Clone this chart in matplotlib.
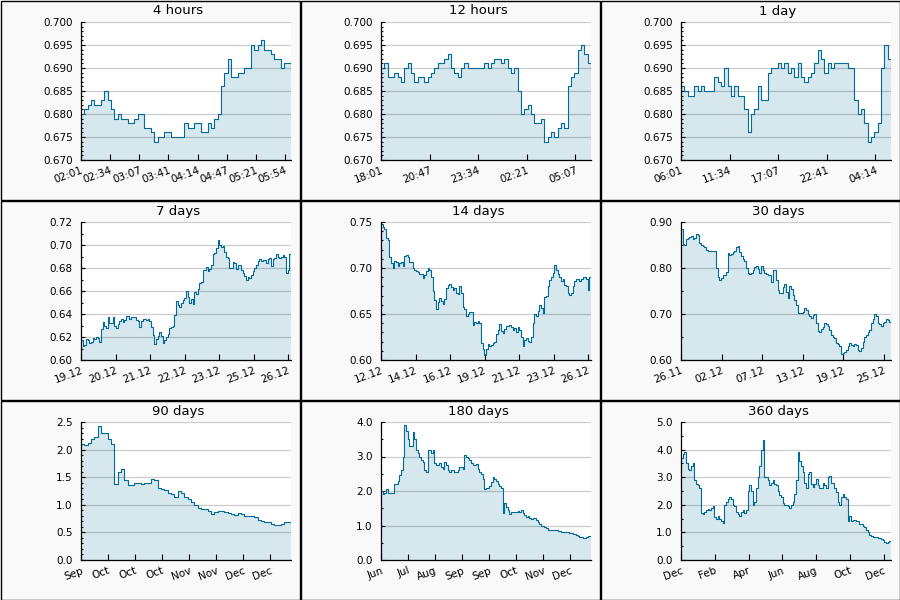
import numpy as np
import matplotlib
matplotlib.use("Agg")
import matplotlib.pyplot as plt
from matplotlib.patches import Rectangle
from matplotlib.ticker import MultipleLocator, FormatStrFormatter

# ---- data ----
titles = ["4 hours", "12 hours", "1 day",
          "7 days", "14 days", "30 days",
          "90 days", "180 days", "360 days"]

four_hours = [0.680, 0.681, 0.682, 0.683, 0.682, 0.682, 0.683, 0.685, 0.683, 0.681,
              0.679, 0.680, 0.679, 0.679, 0.678, 0.678, 0.679, 0.680, 0.680, 0.677,
              0.677, 0.676, 0.674, 0.675, 0.675, 0.676, 0.676, 0.675, 0.675, 0.675,
              0.675, 0.678, 0.677, 0.677, 0.678, 0.678, 0.676, 0.676, 0.678, 0.677,
              0.679, 0.680, 0.686, 0.689, 0.692, 0.688, 0.688, 0.689, 0.689, 0.690,
              0.690, 0.695, 0.694, 0.695, 0.696, 0.694, 0.694, 0.693, 0.692, 0.692,
              0.690, 0.691, 0.691, 0.690]

twelve_hours = [0.690, 0.691, 0.688, 0.688, 0.689, 0.688, 0.687, 0.690, 0.691, 0.689,
                0.687, 0.688, 0.688, 0.687, 0.688, 0.689, 0.690, 0.691, 0.691, 0.692,
                0.693, 0.690, 0.689, 0.688, 0.690, 0.691, 0.690, 0.690, 0.690, 0.690,
                0.690, 0.691, 0.690, 0.691, 0.692, 0.692, 0.691, 0.692, 0.690, 0.689,
                0.690, 0.685, 0.680, 0.681, 0.682, 0.680, 0.678, 0.678, 0.679, 0.674,
                0.675, 0.676, 0.675, 0.677, 0.678, 0.677, 0.686, 0.688, 0.689, 0.694,
                0.695, 0.693, 0.691, 0.690]

one_day = [0.686, 0.685, 0.684, 0.684, 0.686, 0.685, 0.686, 0.685, 0.685, 0.685,
           0.688, 0.687, 0.686, 0.690, 0.686, 0.684, 0.686, 0.684, 0.684, 0.681,
           0.676, 0.680, 0.681, 0.686, 0.683, 0.683, 0.689, 0.690, 0.690, 0.691,
           0.690, 0.691, 0.689, 0.690, 0.688, 0.691, 0.688, 0.687, 0.688, 0.689,
           0.691, 0.694, 0.692, 0.689, 0.691, 0.690, 0.691, 0.691, 0.691, 0.691,
           0.690, 0.690, 0.683, 0.680, 0.681, 0.678, 0.674, 0.675, 0.676, 0.678,
           0.690, 0.695, 0.692, 0.690]

seven_days = [0.617, 0.612, 0.613, 0.618, 0.617, 0.615, 0.616, 0.619, 0.618, 0.620,
              0.619, 0.616, 0.627, 0.633, 0.630, 0.628, 0.637, 0.632, 0.632, 0.637,
              0.630, 0.628, 0.631, 0.634, 0.636, 0.633, 0.635, 0.638, 0.638, 0.636,
              0.637, 0.637, 0.637, 0.635, 0.634, 0.629, 0.634, 0.636, 0.636, 0.635,
              0.636, 0.634, 0.629, 0.622, 0.614, 0.618, 0.621, 0.624, 0.621, 0.615,
              0.617, 0.620, 0.623, 0.628, 0.629, 0.630, 0.639, 0.651, 0.648, 0.646,
              0.650, 0.652, 0.654, 0.660, 0.655, 0.650, 0.653, 0.649, 0.659, 0.657,
              0.662, 0.667, 0.668, 0.678, 0.678, 0.681, 0.677, 0.679, 0.683, 0.692,
              0.693, 0.697, 0.704, 0.700, 0.698, 0.699, 0.694, 0.690, 0.689, 0.680,
              0.680, 0.685, 0.684, 0.679, 0.683, 0.683, 0.678, 0.676, 0.673, 0.670,
              0.672, 0.671, 0.674, 0.677, 0.680, 0.683, 0.686, 0.688, 0.686, 0.687,
              0.687, 0.684, 0.688, 0.689, 0.682, 0.688, 0.689, 0.692, 0.690, 0.689,
              0.690, 0.691, 0.690, 0.676, 0.678, 0.692, 0.692]

fourteen_days = [0.748, 0.745, 0.742, 0.733, 0.730, 0.712, 0.705, 0.700, 0.708, 0.706,
                 0.702, 0.705, 0.706, 0.702, 0.713, 0.714, 0.712, 0.707, 0.707, 0.700,
                 0.698, 0.697, 0.696, 0.693, 0.694, 0.689, 0.692, 0.697, 0.700, 0.698,
                 0.690, 0.675, 0.665, 0.655, 0.663, 0.667, 0.664, 0.661, 0.666, 0.678,
                 0.682, 0.683, 0.679, 0.676, 0.678, 0.673, 0.672, 0.680, 0.673, 0.658,
                 0.655, 0.648, 0.650, 0.652, 0.652, 0.638, 0.641, 0.640, 0.642, 0.640,
                 0.618, 0.612, 0.605, 0.612, 0.617, 0.615, 0.616, 0.618, 0.620, 0.628,
                 0.633, 0.639, 0.632, 0.629, 0.634, 0.637, 0.637, 0.638, 0.636, 0.633,
                 0.635, 0.630, 0.636, 0.633, 0.625, 0.615, 0.622, 0.624, 0.621, 0.620,
                 0.625, 0.640, 0.650, 0.648, 0.653, 0.660, 0.657, 0.651, 0.669, 0.670,
                 0.680, 0.687, 0.690, 0.695, 0.703, 0.698, 0.693, 0.690, 0.686, 0.688,
                 0.682, 0.680, 0.673, 0.671, 0.673, 0.680, 0.686, 0.688, 0.688, 0.686,
                 0.688, 0.690, 0.690, 0.688, 0.676, 0.690, 0.693]

thirty_days = [0.885, 0.852, 0.850, 0.862, 0.865, 0.868, 0.870, 0.862, 0.865, 0.875,
               0.872, 0.855, 0.850, 0.848, 0.845, 0.840, 0.838, 0.836, 0.837, 0.838,
               0.838, 0.800, 0.780, 0.775, 0.778, 0.785, 0.785, 0.792, 0.832, 0.828,
               0.830, 0.835, 0.838, 0.845, 0.848, 0.835, 0.827, 0.820, 0.815, 0.800,
               0.790, 0.788, 0.790, 0.795, 0.803, 0.805, 0.797, 0.790, 0.805, 0.795,
               0.790, 0.787, 0.785, 0.785, 0.770, 0.795, 0.795, 0.775, 0.752, 0.745,
               0.745, 0.758, 0.765, 0.748, 0.735, 0.760, 0.755, 0.742, 0.730, 0.720,
               0.703, 0.702, 0.703, 0.705, 0.712, 0.708, 0.700, 0.695, 0.692, 0.697,
               0.699, 0.680, 0.662, 0.660, 0.668, 0.672, 0.680, 0.678, 0.675, 0.665,
               0.655, 0.650, 0.648, 0.637, 0.635, 0.630, 0.612, 0.615, 0.618, 0.622,
               0.630, 0.636, 0.633, 0.630, 0.635, 0.632, 0.622, 0.620, 0.627, 0.640,
               0.650, 0.655, 0.660, 0.665, 0.680, 0.690, 0.700, 0.695, 0.680, 0.678,
               0.673, 0.680, 0.683, 0.690, 0.686, 0.682, 0.688]

ninety_days = [2.10, 2.08, 2.12, 2.20, 2.22, 2.42, 2.30, 2.30, 2.20, 2.10,
               1.38, 1.60, 1.65, 1.45, 1.35, 1.35, 1.40, 1.40, 1.38, 1.39,
               1.40, 1.46, 1.45, 1.30, 1.28, 1.27, 1.22, 1.20, 1.15, 1.25,
               1.22, 1.15, 1.10, 1.05, 1.00, 0.95, 0.93, 0.92, 0.88, 0.83,
               0.87, 0.88, 0.88, 0.87, 0.86, 0.84, 0.82, 0.85, 0.83, 0.80,
               0.80, 0.79, 0.77, 0.72, 0.71, 0.68, 0.68, 0.66, 0.63, 0.64,
               0.66, 0.69, 0.69, 0.68]

one_eighty_days = [2.00, 1.90, 1.95, 2.05, 1.93, 1.95, 1.95, 1.95, 2.20, 2.20,
                   2.30, 2.45, 2.60, 3.00, 3.90, 3.75, 3.50, 3.30, 3.30, 3.70,
                   3.50, 3.20, 3.10, 3.00, 2.90, 2.85, 2.60, 2.55, 3.20, 3.20,
                   3.10, 3.20, 2.80, 2.75, 2.75, 2.80, 2.70, 2.65, 2.85, 2.75,
                   2.60, 2.55, 2.60, 2.62, 2.55, 2.55, 2.60, 2.70, 2.70, 2.65,
                   3.05, 3.00, 2.95, 2.90, 2.80, 2.75, 2.75, 2.78, 2.65, 2.55,
                   2.50, 2.35, 2.05, 2.10, 2.10, 2.15, 2.25, 2.40, 2.35, 2.30,
                   2.20, 2.15, 2.10, 1.35, 1.65, 1.55, 1.45, 1.32, 1.38, 1.40,
                   1.40, 1.40, 1.42, 1.40, 1.45, 1.35, 1.30, 1.25, 1.28, 1.22,
                   1.20, 1.22, 1.22, 1.15, 1.10, 1.05, 1.00, 0.98, 0.95, 0.92,
                   0.88, 0.87, 0.87, 0.87, 0.87, 0.86, 0.85, 0.83, 0.82, 0.80,
                   0.82, 0.81, 0.80, 0.78, 0.78, 0.76, 0.74, 0.72, 0.70, 0.68,
                   0.66, 0.63, 0.65, 0.67, 0.70, 0.70, 0.70]

three_sixty_days = [3.70, 3.85, 3.90, 3.50, 3.30, 3.25, 3.40, 3.50, 2.90, 2.75,
                    2.70, 2.60, 1.70, 1.65, 1.75, 1.80, 1.85, 1.80, 1.90, 1.95,
                    1.55, 1.50, 1.60, 1.50, 1.40, 1.35, 2.00, 2.10, 2.20, 2.30,
                    2.20, 2.00, 1.95, 1.75, 1.65, 1.60, 1.75, 1.80, 1.70, 1.80,
                    2.50, 2.70, 2.50, 2.00, 2.10, 2.60, 3.00, 3.40, 4.00, 4.35,
                    3.00, 3.00, 2.90, 2.70, 2.80, 2.90, 2.75, 2.70, 2.50, 2.35,
                    2.30, 2.05, 2.00, 2.00, 1.95, 1.90, 2.00, 2.10, 2.40, 2.90,
                    3.90, 3.60, 3.40, 3.20, 2.80, 2.60, 3.10, 3.20, 2.75, 2.65,
                    2.75, 2.95, 2.70, 2.60, 2.60, 2.80, 2.70, 2.60, 3.00, 3.05,
                    2.80, 2.80, 2.60, 2.45, 2.10, 2.00, 2.30, 2.40, 2.30, 2.20,
                    1.40, 1.60, 1.40, 1.45, 1.45, 1.40, 1.40, 1.30, 1.30, 1.25,
                    1.20, 1.10, 1.00, 0.90, 0.88, 0.85, 0.85, 0.82, 0.80, 0.78,
                    0.75, 0.72, 0.65, 0.62, 0.65, 0.68, 0.70]

series = [four_hours, twelve_hours, one_day,
          seven_days, fourteen_days, thirty_days,
          ninety_days, one_eighty_days, three_sixty_days]

# time span of each panel and spacing of its x ticks (minutes / days)
spans = [240, 720, 1440, 7, 14, 30, 90, 180, 360]
tick_steps = [33.33, 166.67, 333.33, 1.15, 2.3, 5.8, 11.57, 23.14, 57.9]

xlabels = [
    ["02:01", "02:34", "03:07", "03:41", "04:14", "04:47", "05:21", "05:54"],
    ["18:01", "20:47", "23:34", "02:21", "05:07"],
    ["06:01", "11:34", "17:07", "22:41", "04:14"],
    ["19.12", "20.12", "21.12", "22.12", "23.12", "25.12", "26.12"],
    ["12.12", "14.12", "16.12", "19.12", "21.12", "23.12", "26.12"],
    ["26.11", "02.12", "07.12", "13.12", "19.12", "25.12"],
    ["Sep", "Oct", "Oct", "Oct", "Nov", "Nov", "Dec", "Dec"],
    ["Jun", "Jul", "Aug", "Sep", "Sep", "Oct", "Nov", "Dec"],
    ["Dec", "Feb", "Apr", "Jun", "Aug", "Oct", "Dec"],
]

ylims = [(0.670, 0.700), (0.670, 0.700), (0.670, 0.700),
         (0.60, 0.72), (0.60, 0.75), (0.60, 0.90),
         (0.0, 2.5), (0.0, 4.0), (0.0, 5.0)]
ymajor = [0.005, 0.005, 0.005, 0.02, 0.05, 0.1, 0.5, 1.0, 1.0]
yminor = [0.001, 0.001, 0.001, 0.01, 0.01, 0.05, 0.1, 0.5, 0.5]
yfmt = ["%.3f", "%.3f", "%.3f", "%.2f", "%.2f", "%.2f", "%.1f", "%.1f", "%.1f"]

line_color = "#006a9a"
fill_color = "#d6e7ee"

W, H = 900, 600
fig = plt.figure(figsize=(9, 6), dpi=100)
fig.patch.set_facecolor("white")

for i in range(9):
    row, col = divmod(i, 3)
    px, py = col * 300, row * 200

    # panel background + border
    fig.patches.append(Rectangle(((px + 0.5) / W, 1 - (py + 199.5) / H), 299 / W, 199 / H,
                                 transform=fig.transFigure, facecolor="#f9f9f9",
                                 edgecolor="black", linewidth=1.0, zorder=-10))

    ax = fig.add_axes([(px + 81) / W, 1 - (py + 160) / H, 210 / W, 138 / H])
    ax.set_zorder(1)
    y = np.array(series[i])
    x = np.linspace(0, spans[i], len(y))
    lo, hi = ylims[i]

    ax.fill_between(x, lo, y, step="post", color=fill_color, linewidth=0, zorder=1)
    ax.plot(x, y, drawstyle="steps-post", color=line_color, linewidth=0.8, zorder=2)

    ax.set_xlim(0, spans[i])
    ax.set_ylim(lo, hi)
    ax.set_facecolor("white")

    ticks = [k * tick_steps[i] for k in range(len(xlabels[i]))]
    ax.set_xticks(ticks)
    ax.set_xticklabels(xlabels[i], rotation=20, ha="right", rotation_mode="anchor")

    ax.yaxis.set_major_locator(MultipleLocator(ymajor[i]))
    ax.yaxis.set_minor_locator(MultipleLocator(yminor[i]))
    ax.yaxis.set_major_formatter(FormatStrFormatter(yfmt[i]))

    ax.grid(axis="y", which="major", color="black", alpha=0.2, linewidth=0.9)
    ax.set_axisbelow("line")

    for side in ["top", "right"]:
        ax.spines[side].set_visible(False)
    for side in ["left", "bottom"]:
        ax.spines[side].set_linewidth(0.9)

    ax.tick_params(axis="y", which="major", direction="in", length=3, width=0.8,
                   labelsize=7.5, pad=6)
    ax.tick_params(axis="y", which="minor", direction="in", length=1.5, width=0.8)
    ax.tick_params(axis="x", which="major", direction="in", length=4, width=0.8,
                   labelsize=7.5, pad=4)

    fig.text((px + 178) / W, 1 - (py + 11) / H, titles[i], ha="center", va="center",
             fontsize=9.5)

plt.savefig("out.png", dpi=100)
